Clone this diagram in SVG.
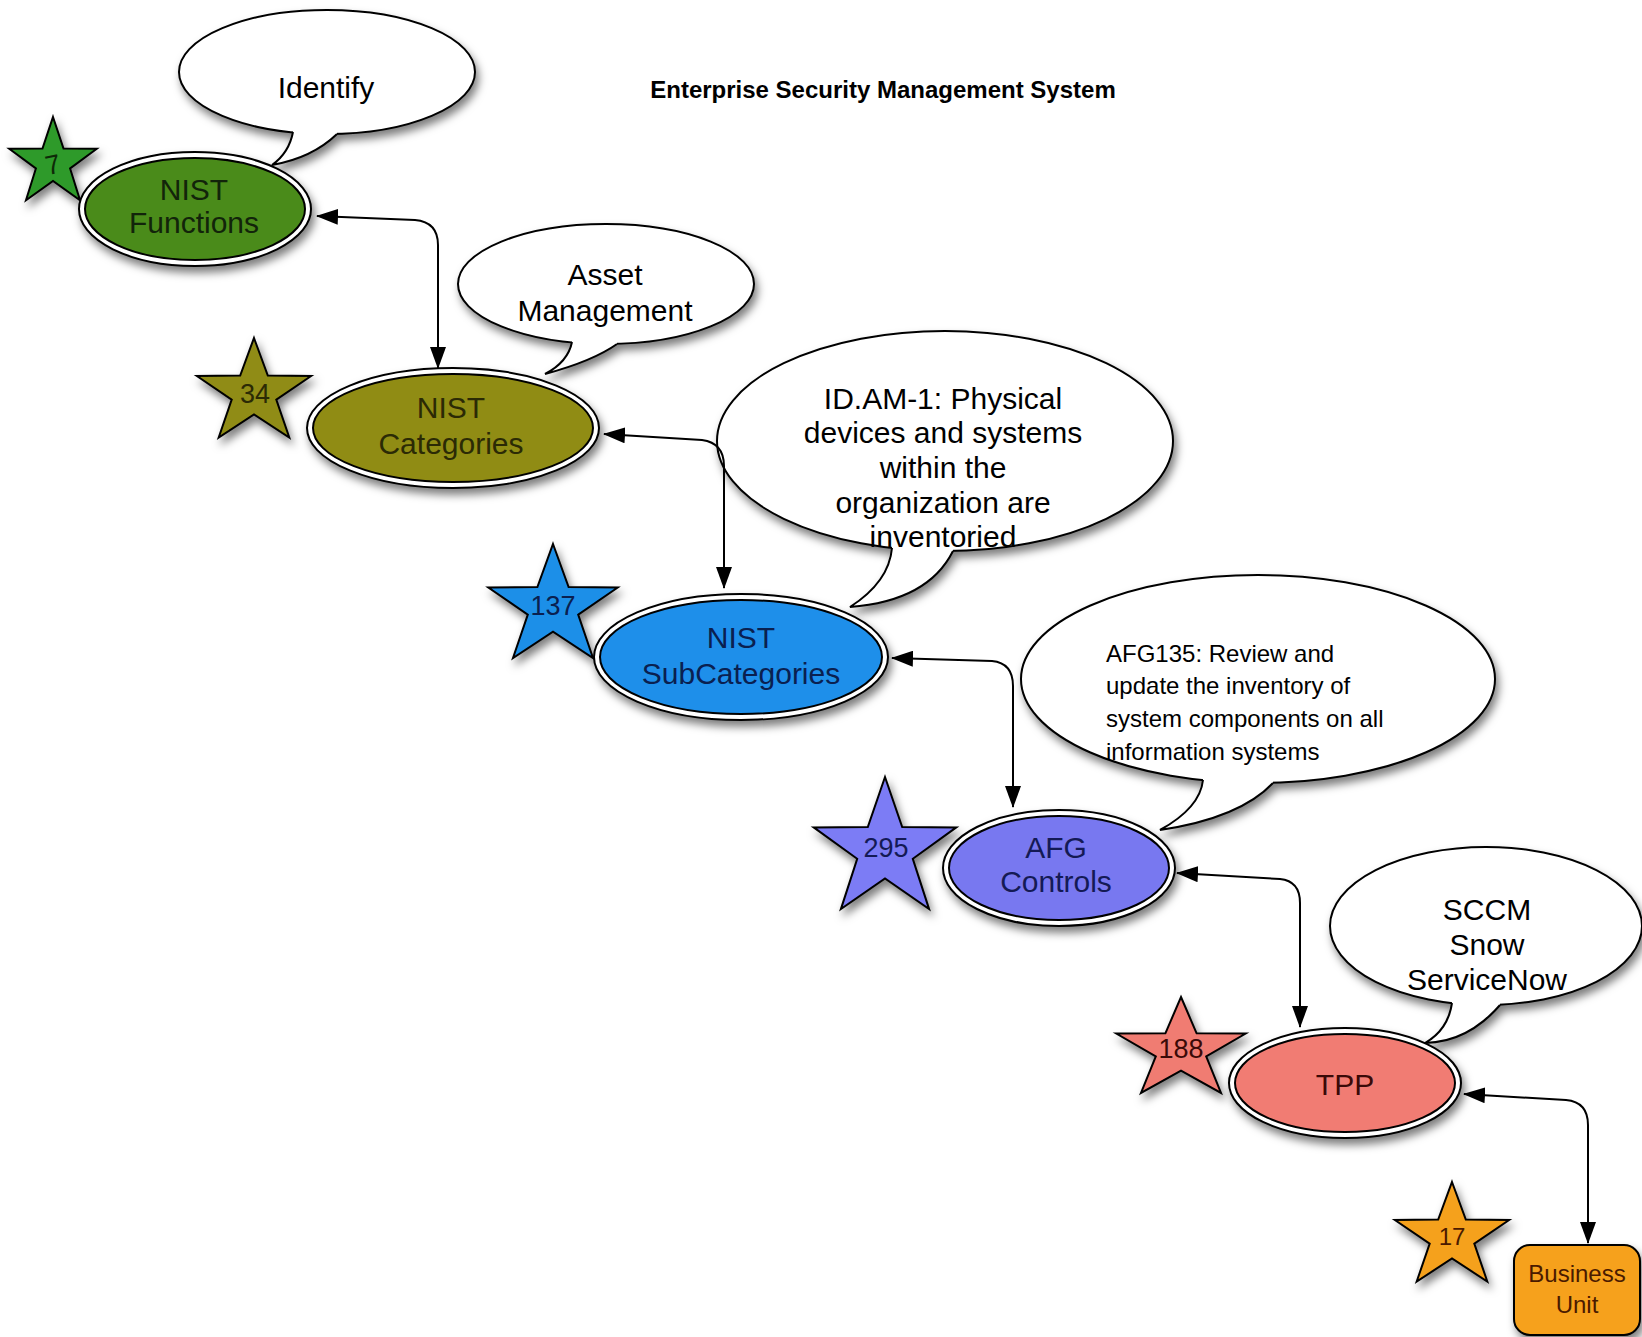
<svg xmlns="http://www.w3.org/2000/svg" width="1642" height="1337" viewBox="0 0 1642 1337">
<defs>
<style>
text{font-family:"Liberation Sans",Arial,sans-serif;}
.t30{font-size:30px;text-anchor:middle;}
.ol{fill:#fff;stroke:#000;stroke-width:2;}
.in{stroke:#000;stroke-width:2;}
.bub{fill:#fff;stroke:#000;stroke-width:2;}
.tl{fill:none;stroke:#000;stroke-width:2;}
.star{stroke:#000;stroke-width:2;stroke-linejoin:miter;}
.st{font-size:27px;text-anchor:middle;}
.conn{fill:none;stroke:#000;stroke-width:2;marker-start:url(#ah);marker-end:url(#ah);}
</style>
<filter id="sh" x="-20%" y="-20%" width="150%" height="150%">
<feDropShadow dx="3" dy="6" stdDeviation="4" flood-color="#000" flood-opacity="0.5"/>
</filter>
<marker id="ah" viewBox="0 0 22 16" refX="21" refY="8" markerWidth="22" markerHeight="16" markerUnits="userSpaceOnUse" orient="auto-start-reverse">
<path d="M0,0 L22,8 L0,16 z" fill="#000"/>
</marker>
</defs>
<rect width="1642" height="1337" fill="#fff"/>

<text x="883" y="98" font-size="24" font-weight="bold" text-anchor="middle">Enterprise Security Management System</text>

<!-- Callout bubbles -->
<g id="bubble-identify">
<g filter="url(#sh)">
<ellipse cx="327" cy="72" rx="148" ry="62" class="bub"/>
<path d="M293,122 L293,132 Q289,153 272,165 Q312,158 337,134 L337,122 Z" fill="#fff"/>
<path d="M293,132 Q289,153 272,165 Q312,158 337,134" class="tl"/>
</g>
<text x="326" y="98" class="t30">Identify</text>
</g>

<g id="bubble-asset">
<g filter="url(#sh)">
<ellipse cx="606" cy="284" rx="148" ry="60" class="bub"/>
<path d="M572,334 L572,342 Q568,362 545,374 Q593,361 617,344 L617,334 Z" fill="#fff"/>
<path d="M572,342 Q568,362 545,374 Q593,361 617,344" class="tl"/>
</g>
<text x="605" y="285" class="t30">Asset</text>
<text x="605" y="321" class="t30">Management</text>
</g>

<g id="bubble-idam">
<g filter="url(#sh)">
<ellipse cx="945" cy="441" rx="228" ry="110" class="bub"/>
<path d="M892,538 L892,548 Q889,582 850,607 Q928,601 953,551 L953,538 Z" fill="#fff"/>
<path d="M892,548 Q889,582 850,607 Q928,601 953,551" class="tl"/>
</g>
<text x="943" y="409" class="t30">ID.AM-1: Physical</text>
<text x="943" y="443" class="t30">devices and systems</text>
<text x="943" y="478" class="t30">within the</text>
<text x="943" y="513" class="t30">organization are</text>
<text x="943" y="547" class="t30">inventoried</text>
</g>

<g id="bubble-afg135">
<g filter="url(#sh)">
<ellipse cx="1258" cy="679" rx="237" ry="104" class="bub"/>
<path d="M1203,770 L1203,780 Q1200,808 1160,830 Q1240,818 1273,783 L1273,770 Z" fill="#fff"/>
<path d="M1203,780 Q1200,808 1160,830 Q1240,818 1273,783" class="tl"/>
</g>
<g font-size="24">
<text x="1106" y="662">AFG135: Review and</text>
<text x="1106" y="694">update the inventory of</text>
<text x="1106" y="727">system components on all</text>
<text x="1106" y="760">information systems</text>
</g>
</g>

<g id="bubble-sccm">
<g filter="url(#sh)">
<ellipse cx="1486" cy="926" rx="156" ry="79" class="bub"/>
<path d="M1452,994 L1452,1003 Q1448,1030 1425,1043 Q1468,1042 1500,1005 L1500,994 Z" fill="#fff"/>
<path d="M1452,1003 Q1448,1030 1425,1043 Q1468,1042 1500,1005" class="tl"/>
</g>
<text x="1487" y="920" class="t30">SCCM</text>
<text x="1487" y="955" class="t30">Snow</text>
<text x="1487" y="990" class="t30">ServiceNow</text>
</g>

<!-- Connectors -->
<g id="connectors">
<path class="conn" d="M317,216 L415,220 Q438,222 438,245 L438,368"/>
<path class="conn" d="M604,434 L702,440 Q724,443 724,466 L724,588"/>
<path class="conn" d="M892,658 L992,661 Q1013,663 1013,686 L1013,807"/>
<path class="conn" d="M1177,873 L1280,879 Q1300,881 1300,903 L1300,1027"/>
<path class="conn" d="M1464,1094 L1566,1100 Q1588,1102 1588,1125 L1588,1243"/>
</g>

<!-- Stars -->
<g id="star-7">
<path class="star" filter="url(#sh)" fill="#2f9a2a" d="M53,117 L63.5,148.5 L96.8,148.8 L70.1,168.5 L80,200.2 L53,180.9 L26,200.2 L35.9,168.5 L9.2,148.8 L42.5,148.5 Z"/>
<text x="53" y="174" class="st" fill="#0e2a08" transform="rotate(-12 53 165)">7</text>
</g>
<g id="star-34">
<path class="star" filter="url(#sh)" fill="#908c14" d="M254,338 L267.8,375.6 L311.1,376 L276.3,399.6 L289.3,437.5 L254,414.5 L218.7,437.5 L231.7,399.6 L196.9,376 L240.2,375.6 Z"/>
<text x="255" y="403" class="st" fill="#2b2a05">34</text>
</g>
<g id="star-137">
<path class="star" filter="url(#sh)" fill="#1f8fe8" d="M553,544 L568.6,587.1 L617.7,587.5 L578.2,614.6 L593,658 L553,631.6 L513,658 L527.8,614.6 L488.3,587.5 L537.4,587.1 Z"/>
<text x="553" y="615" class="st" fill="#0a2050">137</text>
</g>
<g id="star-295">
<path class="star" filter="url(#sh)" fill="#7b7bf5" d="M885,777 L902.2,827 L956.3,827.4 L912.8,858.8 L929.1,909.1 L885,878.5 L840.9,909.1 L857.2,858.8 L813.7,827.4 L867.8,827 Z"/>
<text x="886" y="857" class="st" fill="#141a55">295</text>
</g>
<g id="star-188">
<path class="star" filter="url(#sh)" fill="#f07c72" d="M1181,997 L1196.6,1033.3 L1245.7,1033.6 L1206.2,1056.4 L1221,1092.9 L1181,1070.7 L1141,1092.9 L1155.8,1056.4 L1116.3,1033.6 L1165.4,1033.3 Z"/>
<text x="1181" y="1058" class="st" fill="#3a0a08">188</text>
</g>
<g id="star-17">
<path class="star" filter="url(#sh)" fill="#f5a11e" d="M1452,1182 L1465.8,1219.6 L1509.1,1220 L1474.3,1243.6 L1487.3,1281.5 L1452,1258.5 L1416.7,1281.5 L1429.7,1243.6 L1394.9,1220 L1438.2,1219.6 Z"/>
<text x="1452" y="1245" font-size="24" text-anchor="middle" fill="#4a1a00">17</text>
</g>

<!-- Nodes -->
<g id="node-nist-functions">
<ellipse cx="195" cy="209" rx="116" ry="57" class="ol" filter="url(#sh)"/>
<ellipse cx="195" cy="209" rx="110" ry="51" class="in" fill="#4a8b1a"/>
<text x="194" y="200" class="t30" fill="#12240a">NIST</text>
<text x="194" y="233" class="t30" fill="#12240a">Functions</text>
</g>
<g id="node-nist-categories">
<ellipse cx="453" cy="428" rx="146" ry="60" class="ol" filter="url(#sh)"/>
<ellipse cx="453" cy="428" rx="140" ry="54" class="in" fill="#908c14"/>
<text x="451" y="418" class="t30" fill="#2b2a05">NIST</text>
<text x="451" y="454" class="t30" fill="#2b2a05">Categories</text>
</g>
<g id="node-nist-subcategories">
<ellipse cx="741" cy="657" rx="147" ry="63" class="ol" filter="url(#sh)"/>
<ellipse cx="741" cy="657" rx="141" ry="57" class="in" fill="#1e8fea"/>
<text x="741" y="648" class="t30" fill="#0a2050">NIST</text>
<text x="741" y="684" class="t30" fill="#0a2050">SubCategories</text>
</g>
<g id="node-afg-controls">
<ellipse cx="1059" cy="868" rx="116" ry="58" class="ol" filter="url(#sh)"/>
<ellipse cx="1059" cy="868" rx="110" ry="52" class="in" fill="#7878f0"/>
<text x="1056" y="858" class="t30" fill="#141a55">AFG</text>
<text x="1056" y="892" class="t30" fill="#141a55">Controls</text>
</g>
<g id="node-tpp">
<ellipse cx="1345" cy="1083" rx="116" ry="55" class="ol" filter="url(#sh)"/>
<ellipse cx="1345" cy="1083" rx="110" ry="49" class="in" fill="#f17c73"/>
<text x="1345" y="1095" class="t30" fill="#3a0a08">TPP</text>
</g>
<g id="node-business-unit">
<rect x="1514" y="1245" width="126" height="90" rx="16" ry="16" fill="#f6a11c" stroke="#000" stroke-width="2" filter="url(#sh)"/>
<text x="1577" y="1282" font-size="24" text-anchor="middle" fill="#4a1a00">Business</text>
<text x="1577" y="1313" font-size="24" text-anchor="middle" fill="#4a1a00">Unit</text>
</g>
</svg>
